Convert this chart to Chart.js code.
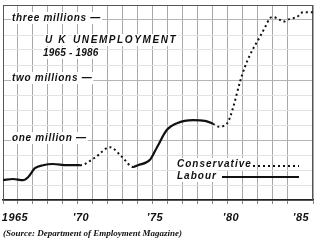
<!DOCTYPE html>
<html>
<head>
<meta charset="utf-8">
<script src="https://cdn.jsdelivr.net/npm/chart.js@4/dist/chart.umd.min.js"></script>
<style>
html,body{margin:0;padding:0;background:#fff;}
#wrap{width:320px;height:241px;position:relative;}
canvas{display:block;}
</style>
</head>
<body>
<div id="wrap"><canvas id="c" width="320" height="241"></canvas></div>
<script>
// Years (decimal) at which the curve was read
const years = [1965.0,1965.67,1966.33,1966.67,1967.13,1967.67,1968.33,1969.27,1970.13,1971.1,1972.13,1972.93,1973.67,1974.0,1974.8,1975.27,1975.93,1976.6,1977.67,1978.47,1979.0,1979.4,1979.67,1980.0,1980.33,1980.8,1981.13,1981.47,1981.8,1982.13,1982.47,1982.8,1983.0,1983.47,1983.67,1984.13,1984.6,1985.0,1985.67];
// Unemployment, millions
const unemployment = [0.33,0.35,0.33,0.38,0.53,0.58,0.60,0.58,0.58,0.70,0.88,0.72,0.55,0.58,0.67,0.88,1.17,1.28,1.33,1.32,1.27,1.22,1.23,1.30,1.53,1.97,2.22,2.42,2.58,2.72,2.88,3.03,3.05,3.00,2.97,3.02,3.05,3.13,3.13];
// Government in office for the segment starting at each point
const government = ['L','L','L','L','L','L','L','L','C','C','C','C','L','L','L','L','L','L','L','L','C','C','C','C','C','C','C','C','C','C','C','C','C','C','C','C','C','C','C'];
// Axis labels
const xTickLabels = {1965:'1965',1970:"'70",1975:"'75",1980:"'80",1985:"'85"};
const yLevelLabels = [{v:3,text:'three millions —'},{v:2,text:'two millions —'},{v:1,text:'one million —'}];
const titleWords = ['U K','UNEMPLOYMENT'];
const titleYears = '1965 - 1986';
const legendItems = [{text:'Conservative',party:'C'},{text:'Labour',party:'L'}];
const sourceText = '(Source: Department of Employment Magazine)';

const INK = '#111';
const DOT = [2,3];

const points = years.map((y,i)=>({x:y,y:unemployment[i]}));

function textBox(ctx, text, x, y, pad){
  const w = ctx.measureText(text).width;
  ctx.save();
  ctx.fillStyle = '#fff';
  ctx.fillRect(x - pad, y - 6, w + pad*2, 12);
  ctx.restore();
  ctx.fillText(text, x, y);
  return w;
}

const SANS = '"Liberation Sans", Arial, sans-serif';
const labelShift = {1965:12,1970:3,1975:2,1980:3,1985:-2};

const decor = {
  id:'decor',
  beforeDatasetsDraw(chart){
    const {ctx, chartArea:a, scales} = chart;
    const xs = scales.x, ys = scales.y;
    ctx.save();
    // frame
    ctx.strokeStyle = '#555';
    ctx.lineWidth = 1;
    ctx.strokeRect(a.left+0.5, a.top+0.5, a.right-a.left-1, a.bottom-a.top);
    ctx.fillStyle = INK;
    ctx.textBaseline = 'middle';
    ctx.textAlign = 'left';
    // level labels
    ctx.font = 'italic bold 10px ' + SANS;
    ctx.letterSpacing = '0.7px';
    yLevelLabels.forEach(l=>{
      textBox(ctx, l.text, 12, ys.getPixelForValue(l.v)-2, 1);
    });
    // title
    ctx.font = 'italic bold 10px ' + SANS;
    ctx.letterSpacing = '1.6px';
    textBox(ctx, titleWords[0], 45, 40, 1);
    textBox(ctx, titleWords[1], 73, 40, 1);
    ctx.letterSpacing = '0.2px';
    textBox(ctx, titleYears, 43, 53, 1);
    // legend
    ctx.letterSpacing = '1px';
    const ly = [164, 176];
    legendItems.forEach((it,i)=>{
      textBox(ctx, it.text, 177, ly[i], 1);
      ctx.save();
      ctx.strokeStyle = INK;
      ctx.lineWidth = 2;
      ctx.setLineDash(it.party==='C'?DOT:[]);
      ctx.beginPath();
      const x0 = it.party==='C' ? 253 : 222;
      const yy = it.party==='C' ? ly[i]+2 : ly[i]+1;
      ctx.moveTo(x0, yy); ctx.lineTo(299, yy);
      ctx.stroke();
      ctx.restore();
    });
    // x tick labels
    ctx.letterSpacing = '0.5px';
    ctx.font = 'italic bold 11px ' + SANS;
    ctx.textAlign = 'center';
    Object.keys(xTickLabels).forEach(k=>{
      const yr = +k;
      const x = xs.getPixelForValue(yr) + labelShift[yr];
      ctx.fillText(xTickLabels[k], x, 218);
    });
    // source
    ctx.letterSpacing = '0px';
    ctx.textAlign = 'left';
    ctx.font = 'italic bold 9px "Liberation Serif", "Times New Roman", serif';
    ctx.fillText(sourceText, 3, 234);
    ctx.restore();
  }
};

new Chart(document.getElementById('c'), {
  type:'line',
  data:{
    datasets:[{
      data: points,
      borderColor: INK,
      borderWidth: 2.2,
      pointRadius: 0,
      fill:false,
      cubicInterpolationMode:'monotone',
      segment:{
        borderDash: c => government[c.p0DataIndex]==='C' ? DOT : undefined,
        borderWidth: c => government[c.p0DataIndex]==='C' ? 2 : 2.2
      }
    }]
  },
  options:{
    responsive:false,
    animation:false,
    devicePixelRatio:1,
    layout:{padding:{left:3,right:7,top:5,bottom:0}},
    plugins:{legend:{display:false},tooltip:{enabled:false}},
    scales:{
      x:{
        type:'linear', min:1965, max:1985.667,
        ticks:{stepSize:1, display:false},
        grid:{color:'#a8a8a8', lineWidth:1, tickLength:4, tickColor:'#888', drawTicks:true},
        border:{display:true, color:'#222', width:1.5},
        afterFit(s){ s.height = 41; }
      },
      y:{
        min:0, max:3.25,
        ticks:{stepSize:0.25, display:false},
        grid:{
          color: c => (Math.abs(c.tick.value - Math.round(c.tick.value))<1e-6) ? '#b5b5b5' : '#e2e2e2',
          lineWidth:1, drawTicks:false
        },
        border:{display:false},
        afterFit(s){ s.width = 0; }
      }
    }
  },
  plugins:[decor]
});
</script>
</body>
</html>
